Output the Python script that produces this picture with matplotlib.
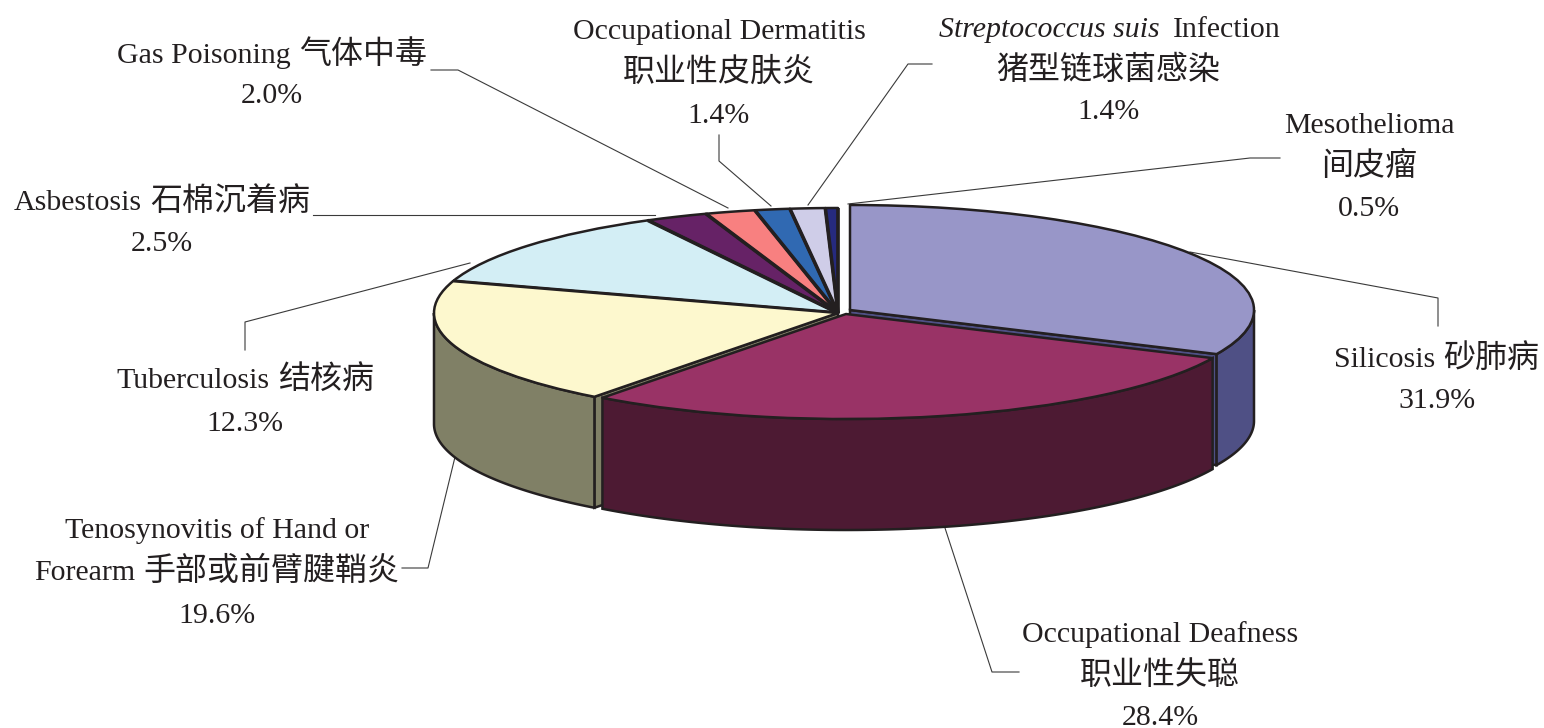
#!/usr/bin/env python3
"""Occupational diseases share, drawn as a tilted 3D-style pie."""

import re

import matplotlib

matplotlib.use("Agg")
import matplotlib.pyplot as plt
import numpy as np
from matplotlib.patches import Polygon
from matplotlib.transforms import Affine2D

names = ["Silicosis", "Occupational Deafness", "Tenosynovitis", "Tuberculosis", "Asbestosis",
         "Gas Poisoning", "Occupational Dermatitis", "Streptococcus suis", "Mesothelioma"]
values = [31.9, 28.4, 19.6, 12.3, 2.5, 2.0, 1.4, 1.4, 0.5]
top_colors = ["#9896C8", "#993366", "#FDF8CE", "#D3EEF5", "#662266",
              "#F88080", "#3069B2", "#CFCDE8", "#262A7E"]
side_colors = ["#4F5085", "#4D1A33", "#808066", None, None, None, None, None, None]

label_lines = [
    ["Silicosis 砂肺病"],
    ["Occupational Deafness", "职业性失聪"],
    ["Tenosynovitis of Hand or", "Forearm 手部或前臂腱鞘炎"],
    ["Tuberculosis 结核病"],
    ["Asbestosis 石棉沉着病"],
    ["Gas Poisoning 气体中毒"],
    ["Occupational Dermatitis", "职业性皮肤炎"],
    [None, "猪型链球菌感染"],
    ["Mesothelioma", "间皮瘤"],
]

W, H = 1544, 728
CX, CY, RX, RY = 838, 313, 404, 105
DEPTH = 111 / RY
INK = "#231F20"
# slice offsets in pixels, and the order slices are painted in
OFFSETS = [(12, -3), (8, 1), (0, 0), (0, 0), (0, 0), (0, 0), (0, 0), (0, 0), (0, 0)]
ZORDERS = [6, 10, 8, 4, 3, 3, 3, 3, 3]
EDGE = 1.8
SPOKE = 2.6

# label anchors: centre x, baseline y of each line
LABEL_POS = [
    (1437, [367, 408]),
    (1160, [642, 684, 725]),
    (217, [538, 580, 623]),
    (245, [388, 431]),
    (162, [210, 251]),
    (272, [63, 103]),
    (719, [39, 81, 123]),
    (1108, [37, 79, 119]),
    (1369, [133, 175, 216]),
]
LEADERS = [
    [(1438, 326), (1438, 298), (1190, 252)],
    [(1019, 672), (992, 672), (945, 528)],
    [(402, 568), (428, 568), (455, 457)],
    [(245, 350), (245, 322), (470, 263)],
    [(313, 215), (655, 215)],
    [(431, 70), (458, 70), (728, 208)],
    [(719, 135), (719, 161), (771, 206)],
    [(932, 64), (908, 64), (808, 205)],
    [(1280, 158), (1250, 158), (848, 204)],
]
FONT = ["Liberation Serif", "Noto Sans CJK SC", "DejaVu Sans"]
LATIN_SIZE = 21.5
CJK_SIZE = 23
WORD_GAP = 8

plt.rcParams["font.family"] = FONT

fig = plt.figure(figsize=(W / 100, H / 100), dpi=100)
ax = fig.add_axes([0, 0, 1, 1])

wedges, _ = ax.pie(values, colors=top_colors, startangle=90, counterclock=False, radius=1,
                   wedgeprops={"edgecolor": INK, "linewidth": EDGE, "joinstyle": "round"})
ax.set_aspect("auto")
ax.set_xlim(-CX / RX, (W - CX) / RX)
ax.set_ylim((CY - H) / RY, CY / RY)
ax.axis("off")

# same picture in pixel coordinates, for labels and leader lines
px = Affine2D().scale(1 / W, -1 / H).translate(0, 1) + fig.transFigure

edges = np.concatenate([[0], np.cumsum(values)]) / np.sum(values) * 2 * np.pi
for i, wedge in enumerate(wedges):
    dx, dy = OFFSETS[i][0] / RX, -OFFSETS[i][1] / RY
    wedge.set_center((dx, dy))
    wedge.set_zorder(ZORDERS[i] + 0.5)
    if side_colors[i] is None:
        continue
    a0, a1 = edges[i], edges[i + 1]
    # cut faces, only where they turn towards the viewer
    for a, visible in ((a0, np.sin(a0) < -1e-9), (a1, np.sin(a1) > 1e-9)):
        if not visible:
            continue
        corner = (dx + np.sin(a), dy + np.cos(a))
        face = [(dx, dy), corner, (corner[0], corner[1] - DEPTH), (dx, dy - DEPTH)]
        ax.add_patch(Polygon(face, closed=True, facecolor=side_colors[i], edgecolor=INK,
                             linewidth=EDGE, zorder=ZORDERS[i]))
    # outer wall, only the part that faces the viewer
    lo, hi = max(a0, np.pi / 2), min(a1, 3 * np.pi / 2)
    t = np.linspace(lo, hi, 120)
    upper = np.column_stack([dx + np.sin(t), dy + np.cos(t)])
    lower = upper[::-1] - [0, DEPTH]
    ax.add_patch(Polygon(np.vstack([upper, lower]), closed=True, facecolor=side_colors[i],
                         edgecolor=INK, linewidth=EDGE, zorder=ZORDERS[i] + 0.2))

# the narrow slices at the back are split by heavier spokes
for a in edges[3:10]:
    ax.plot([0, np.sin(a)], [0, np.cos(a)], color=INK, lw=SPOKE, zorder=7, solid_capstyle="butt")

for points in LEADERS:
    xs, ys = zip(*points)
    ax.plot(xs, ys, color="#3A3A3A", lw=0.8, transform=px, zorder=1, clip_on=False)

renderer = fig.canvas.get_renderer()


def put(x, y, text, size=LATIN_SIZE, ha="center", **kw):
    return ax.text(x, y, text, transform=px, ha=ha, va="baseline",
                   fontsize=size, color=INK, zorder=12, **kw)


def put_line(x, y, line):
    """Centre a line whose Latin and Chinese runs have different sizes."""
    runs = [r.strip() for r in re.findall(r"[\u4e00-\u9fff]+|[^\u4e00-\u9fff]+", line)]
    artists = []
    for run in runs:
        size = CJK_SIZE if re.match(r"[\u4e00-\u9fff]", run) else LATIN_SIZE
        artists.append(put(0, y, run, size=size, ha="left"))
    widths = [a.get_window_extent(renderer).width for a in artists]
    left = x - (sum(widths) + WORD_GAP * (len(runs) - 1)) / 2
    for artist, width in zip(artists, widths):
        artist.set_x(left)
        left += width + WORD_GAP


for lines, value, (x, baselines) in zip(label_lines, values, LABEL_POS):
    for line, y in zip(lines + [f"{value:.1f}%"], baselines):
        if line is not None:
            put_line(x, y, line)

# the species name is set in italics, so that line is two pieces
put(1160, 37, "Streptococcus suis", ha="right", style="italic")
put(1173, 37, "Infection", ha="left")

fig.savefig("out.png", dpi=100)
plt.close(fig)
